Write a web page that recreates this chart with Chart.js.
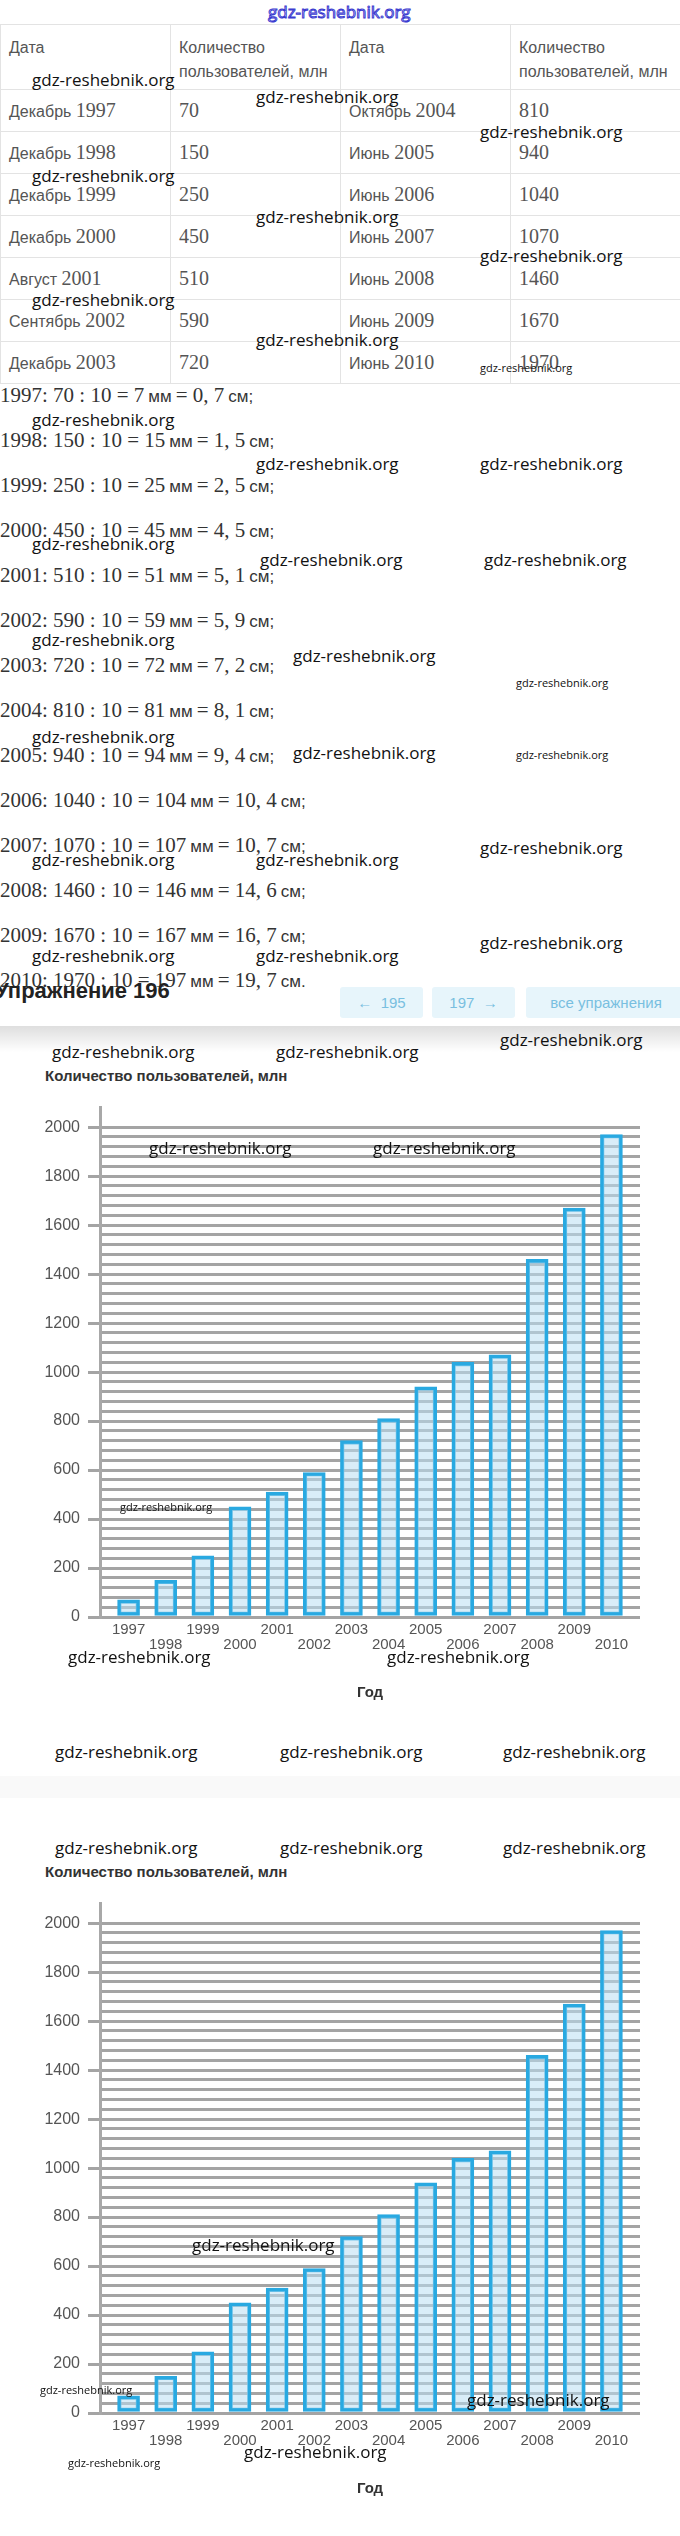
<!DOCTYPE html>
<html><head><meta charset="utf-8">
<script src="https://cdn.jsdelivr.net/npm/chart.js@4.4.1/dist/chart.umd.min.js"></script>
<style>
html,body{margin:0;padding:0;background:#fff;}
#page{position:relative;width:680px;height:2536px;overflow:hidden;background:#fff;}
.abs{position:absolute;white-space:nowrap;}
table{border-collapse:collapse;position:absolute;left:0;top:24px;width:680px;table-layout:fixed;}
td{border:1px solid #e3e3e3;padding:0 0 0 8px;color:#555;font-family:"Liberation Sans",Arial,sans-serif;font-size:16px;white-space:nowrap;overflow:hidden;}
tr.head td{height:65px;vertical-align:top;padding-top:11px;line-height:24px;box-sizing:border-box;font-size:16px;}
tr.row td{height:41px;vertical-align:middle;}
.num{font-family:"Liberation Serif","DejaVu Serif",serif;font-size:20px;color:#555;}
.calc{left:0;height:24px;line-height:24px;color:#333;}
.calc .n{font-family:"Liberation Serif","DejaVu Serif",serif;font-size:21px;}
.calc .u{font-family:"Liberation Sans",Arial,sans-serif;font-size:17px;}
.wm{font-family:"Open Sans",sans-serif;font-size:17px;line-height:18px;color:#111;z-index:5;}
.wm.s{font-size:11px;line-height:12px;}
.btn{top:987px;height:31px;background:#e7f5fb;border-radius:3px;color:#79bfe0;font-family:"Liberation Sans",Arial,sans-serif;font-size:15px;line-height:31px;text-align:center;}
.ctitle{left:45px;font-family:"Liberation Sans",Arial,sans-serif;font-weight:bold;font-size:15px;color:#333;line-height:18px;}
canvas{position:absolute;left:0;}
</style></head>
<body><div id="page">
<div class="abs" style="left:268px;top:3px;font-family:'Open Sans',sans-serif;font-size:17px;line-height:18px;color:#fff;-webkit-text-stroke:1px #3b3bd0;">gdz-reshebnik.org</div>
<table id="tbl"></table>
<div id="calcs"></div>
<div class="abs" style="left:-5px;top:979px;font-family:'Liberation Sans',Arial,sans-serif;font-weight:bold;font-size:22px;line-height:24px;color:#222;">Упражнение 196</div>
<div class="abs btn" style="left:340px;width:83px;">&larr;&nbsp; 195</div>
<div class="abs btn" style="left:432px;width:83px;">197 &nbsp;&rarr;</div>
<div class="abs btn" style="left:526px;width:160px;">все упражнения</div>
<div class="abs" style="left:0;top:1026px;width:680px;height:26px;background:linear-gradient(to bottom,rgba(0,0,0,0.13),rgba(0,0,0,0));"></div>
<div class="abs" style="left:0;top:1776px;width:680px;height:22px;background:#f9f9f9;"></div>
<div class="abs ctitle" style="top:1067px;">Количество пользователей, млн</div>
<div class="abs ctitle" style="top:1863px;">Количество пользователей, млн</div>
<canvas id="c1" width="680" height="612" style="top:1090px;"></canvas>
<canvas id="c2" width="680" height="612" style="top:1886px;"></canvas>
<div id="wms"></div>
</div>
<script>
// ---- data ----
const years = ['1997','1998','1999','2000','2001','2002','2003','2004','2005','2006','2007','2008','2009','2010'];
const months = ['Декабрь','Декабрь','Декабрь','Декабрь','Август','Сентябрь','Декабрь','Октябрь','Июнь','Июнь','Июнь','Июнь','Июнь','Июнь'];
const users = [70,150,250,450,510,590,720,810,940,1040,1070,1460,1670,1970];
const yTicksMajor = [0,200,400,600,800,1000,1200,1400,1600,1800,2000];
const headDate = 'Дата';
const headCount = ['Количество','пользователей, млн'];

// ---- table ----
const tbl = document.getElementById('tbl');
let html = '<colgroup><col style="width:170px"><col style="width:170px"><col style="width:170px"><col style="width:170px"></colgroup>';
html += '<tr class="head"><td>'+headDate+'</td><td>'+headCount.join('<br>')+'</td><td>'+headDate+'</td><td>'+headCount.join('<br>')+'</td></tr>';
for (let i=0;i<7;i++){
  const j=i+7;
  html += '<tr class="row"><td>'+months[i]+' <span class="num">'+years[i]+'</span></td><td><span class="num">'+users[i]+'</span></td>'+
          '<td>'+months[j]+' <span class="num">'+years[j]+'</span></td><td><span class="num">'+users[j]+'</span></td></tr>';
}
tbl.innerHTML = html;

// ---- calculation lines ----
const calcs = document.getElementById('calcs');
years.forEach((y,i)=>{
  const v = users[i], mm = v/10, cm = (v/100).toFixed(1).replace('.', ', ');
  const end = i===years.length-1 ? '.' : ';';
  const d = document.createElement('div');
  d.className='abs calc';
  d.style.top = (383 + 45*i)+'px';
  d.innerHTML = '<span class="n">'+y+': '+v+' : 10 = '+mm+'</span> <span class="u">мм</span> <span class="n">= '+cm+'</span> <span class="u">см'+end+'</span>';
  calcs.appendChild(d);
});

// ---- watermarks (text overlay) ----
const wmL = [[32,80],[256,97],[480,132],[32,176],[256,217],[480,256],[32,300],[256,340],
  [32,420],[256,464],[480,464],[32,544],[260,560],[484,560],[32,640],[293,656],
  [32,737],[293,753],[480,848],[32,860],[256,860],[480,943],[32,956],[256,956],
  [52,1052],[276,1052],[500,1040],[149,1148],[373,1148],[68,1657],[387,1657],[55,1752],[280,1752],[503,1752],
  [55,1848],[280,1848],[503,1848],[192,2245],[467,2400],[244,2452]];
const wmS = [[480,368],[516,683],[516,755],[120,1507],[40,2390],[68,2463]];
const wms = document.getElementById('wms');
wmL.forEach(p=>{const d=document.createElement('div');d.className='abs wm';d.style.left=p[0]+'px';d.style.top=(p[1]-9)+'px';d.textContent='gdz-reshebnik.org';wms.appendChild(d);});
wmS.forEach(p=>{const d=document.createElement('div');d.className='abs wm s';d.style.left=p[0]+'px';d.style.top=(p[1]-6)+'px';d.textContent='gdz-reshebnik.org';wms.appendChild(d);});

// ---- charts ----
Chart.defaults.font.family = "'Liberation Sans', Arial, sans-serif";
const gridCol = '#a4a4a4';
function makeChart(id){
  new Chart(document.getElementById(id), {
    type:'bar',
    data:{datasets:[{
      data: users.map((v,i)=>({x:i,y:v})),
      backgroundColor:'rgba(185,223,243,0.55)',
      borderColor:'#29a9e1',
      borderWidth:3.5,
      borderSkipped:false,
      barThickness:22
    }]},
    options:{
      responsive:false, animation:false, devicePixelRatio:1,
      layout:{padding:{top:7,right:40,bottom:0,left:0}},
      plugins:{legend:{display:false},tooltip:{enabled:false},title:{display:false}},
      scales:{
        x:{type:'linear',min:-0.25,max:13.25,
          afterFit(s){s.height=85;},
          grid:{display:false,drawTicks:false},
          border:{display:false},
          ticks:{stepSize:1,includeBounds:false,autoSkip:false,maxRotation:0,minRotation:0,padding:5,color:'#555',
            font:{size:15,lineHeight:1},
            callback:(v)=>{ if(!Number.isInteger(v)||v<0||v>=years.length) return ''; return v%2===0?[years[v]]:['',years[v]]; }},
          title:{display:true,text:'Год',color:'#333',font:{size:15,weight:'bold'},padding:0}
        },
        y:{min:0,max:2080,
          afterFit(s){s.width=100;},
          ticks:{stepSize:40,autoSkip:false,padding:8,color:'#555',font:{size:16},
            callback:(v)=> yTicksMajor.includes(v) ? String(v) : ''},
          grid:{lineWidth:3,tickLength:12,
            color:(c)=> (c.tick && c.tick.value>2000) ? 'rgba(0,0,0,0)' : gridCol,
            tickColor:(c)=> (c.tick && yTicksMajor.includes(c.tick.value)) ? gridCol : 'rgba(0,0,0,0)'},
          border:{display:true,color:'#a8a8a8',width:3}
        }
      }
    }
  });
}
makeChart('c1');
makeChart('c2');
</script>
</body></html>
